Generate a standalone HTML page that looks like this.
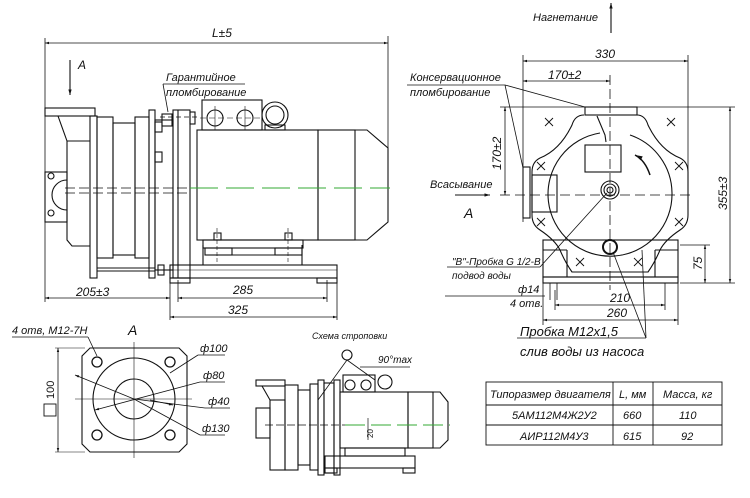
<!DOCTYPE html>
<html><head><meta charset="utf-8"><style>
html,body{margin:0;padding:0;background:#fff;}
svg{display:block;}
text{font-family:"Liberation Sans","DejaVu Sans",sans-serif;font-style:italic;fill:#111;}
</style></head><body>
<svg width="750" height="498" viewBox="0 0 750 498" xmlns="http://www.w3.org/2000/svg">
<defs>
<marker id="a" viewBox="0 0 10 10" refX="10" refY="5" markerWidth="8" markerHeight="5" orient="auto-start-reverse"><path d="M0,2 L10,5 L0,8 z" fill="#111"/></marker>
</defs>
<g fill="none" stroke="#111" stroke-width="1.1">
<!-- ================= LEFT VIEW ================= -->
<line x1="45" y1="38" x2="45" y2="302" stroke-width="0.8"/>
<line x1="388" y1="36" x2="388" y2="150" stroke-width="0.8"/>
<line x1="45" y1="43" x2="388" y2="43" stroke-width="0.8" marker-start="url(#a)" marker-end="url(#a)"/>
<line x1="70" y1="60" x2="70" y2="95" marker-end="url(#a)"/>
<line x1="163" y1="84" x2="245" y2="84" stroke-width="0.8"/>
<line x1="163" y1="84" x2="168" y2="112" stroke-width="0.8"/>
<!-- pump -->
<rect x="45" y="108" width="50" height="8"/>
<path d="M48,116 L58,116 L67,141 L90,141"/>
<path d="M67,141 L67,240 L72,246 L90,246"/>
<rect x="45" y="172" width="22" height="50"/>
<circle cx="51" cy="176" r="3"/><circle cx="51" cy="213" r="3"/>
<path d="M67,180 A15,15 0 0 0 67,210"/>
<rect x="90" y="116" width="7" height="162"/>
<rect x="97" y="117" width="16" height="141"/>
<rect x="113" y="123" width="22" height="132"/>
<rect x="135" y="117" width="14" height="141"/>
<rect x="149" y="110" width="6" height="168"/>
<rect x="155" y="120" width="18" height="150"/>
<rect x="173" y="110" width="17" height="168"/>
<line x1="178" y1="110" x2="178" y2="278"/>
<line x1="97" y1="268" x2="155" y2="268"/><line x1="97" y1="271" x2="155" y2="271"/>
<rect x="158" y="265" width="6" height="10"/>
<rect x="162" y="114" width="10" height="12"/><rect x="155" y="122" width="7" height="10"/>
<rect x="155" y="152" width="7" height="10"/>
<line x1="160" y1="117" x2="200" y2="117" stroke-dasharray="5,3" stroke-width="0.8"/>
<rect x="190" y="112" width="5" height="12"/>
<!-- motor -->
<rect x="197" y="130" width="121" height="110"/>
<rect x="318" y="130" width="37" height="110"/>
<path d="M355,130 L367,130 L388,148 L388,222 L367,240 L355,240"/>
<rect x="202" y="100" width="60" height="30"/>
<circle cx="215" cy="118" r="8"/><circle cx="245" cy="118" r="8"/>
<line x1="215" y1="106" x2="215" y2="130" stroke-width="0.6"/><line x1="245" y1="106" x2="245" y2="130" stroke-width="0.6"/>
<line x1="200" y1="118" x2="260" y2="118" stroke-dasharray="6,3" stroke-width="0.6"/>
<circle cx="275" cy="115" r="13"/><circle cx="275" cy="115" r="9"/>
<rect x="265" y="125" width="20" height="5"/>
<!-- feet/base -->
<rect x="203" y="240" width="100" height="8"/>
<rect x="205" y="248" width="27" height="7"/><rect x="275" y="248" width="27" height="7"/>
<line x1="205" y1="255" x2="302" y2="255"/>
<path d="M203,245 L203,265 M302,245 L302,265"/>
<rect x="170" y="265" width="167" height="13"/>
<rect x="170" y="278" width="20" height="5"/><rect x="317" y="278" width="20" height="5"/>
<line x1="170" y1="270" x2="337" y2="270" stroke-width="0.6"/>
<rect x="214" y="233" width="7" height="7"/><rect x="285" y="233" width="7" height="7"/>
<line x1="217" y1="228" x2="217" y2="262" stroke-dasharray="4,2" stroke-width="0.6"/>
<line x1="288" y1="228" x2="288" y2="262" stroke-dasharray="4,2" stroke-width="0.6"/>
<line x1="65" y1="188" x2="190" y2="188" stroke-dasharray="10,4" stroke-width="0.8"/>
<line x1="65" y1="193" x2="190" y2="193" stroke-dasharray="10,4" stroke-width="0.8"/>
<line x1="190" y1="188" x2="390" y2="188" stroke="#3a3" stroke-dasharray="28,8" stroke-width="1"/>
<!-- bottom dims -->
<line x1="170" y1="278" x2="170" y2="320" stroke-width="0.8"/>
<line x1="337" y1="283" x2="337" y2="320" stroke-width="0.8"/>
<line x1="178" y1="280" x2="178" y2="302" stroke-width="0.8"/>
<line x1="327" y1="280" x2="327" y2="302" stroke-width="0.8"/>
<line x1="45" y1="298" x2="170" y2="298" stroke-width="0.8" marker-start="url(#a)" marker-end="url(#a)"/>
<line x1="178" y1="298" x2="327" y2="298" stroke-width="0.8" marker-start="url(#a)" marker-end="url(#a)"/>
<line x1="170" y1="317" x2="337" y2="317" stroke-width="0.8" marker-start="url(#a)" marker-end="url(#a)"/>

<!-- ================= RIGHT VIEW ================= -->
<line x1="611" y1="33" x2="611" y2="3" marker-end="url(#a)"/>
<line x1="523" y1="55" x2="523" y2="222" stroke-width="0.8"/>
<line x1="688" y1="55" x2="688" y2="200" stroke-width="0.8"/>
<line x1="523" y1="61" x2="688" y2="61" stroke-width="0.8" marker-start="url(#a)" marker-end="url(#a)"/>
<line x1="523" y1="81" x2="610" y2="81" stroke-width="0.8" marker-start="url(#a)" marker-end="url(#a)"/>
<line x1="610" y1="75" x2="610" y2="290" stroke-dasharray="10,4" stroke-width="0.8"/>
<line x1="407" y1="85" x2="505" y2="85" stroke-width="0.8"/>
<line x1="505" y1="85" x2="585" y2="107" stroke-width="0.8"/>
<line x1="505" y1="85" x2="523" y2="168" stroke-width="0.8"/>
<line x1="500" y1="107" x2="735" y2="107" stroke-width="0.8"/>
<line x1="505" y1="107" x2="505" y2="195" stroke-width="0.8" marker-start="url(#a)" marker-end="url(#a)"/>
<line x1="730" y1="107" x2="730" y2="283" stroke-width="0.8" marker-start="url(#a)" marker-end="url(#a)"/>
<line x1="680" y1="283" x2="735" y2="283" stroke-width="0.8"/>
<line x1="680" y1="245" x2="710" y2="245" stroke-width="0.8"/>
<line x1="705" y1="245" x2="705" y2="283" stroke-width="0.8" marker-start="url(#a)" marker-end="url(#a)"/>
<rect x="585" y="107" width="52" height="8"/>
<path d="M584,115 Q575,115 572,125 Q560,150 540,158 Q532,162 532,172 L532,215 Q532,225 540,230 Q555,240 560,250 Q565,262 572,272 L648,272 Q655,262 660,250 Q665,240 680,230 Q688,225 688,215 L688,172 Q688,162 680,158 Q660,150 648,125 Q645,115 637,115"/>
<path d="M600,133 A62,62 0 1 0 672,193"/>
<path d="M672,193 A62,62 0 0 0 630,135"/>
<path d="M597,116 L605,135 L606,142"/>
<rect x="585" y="145" width="36" height="27"/>
<path d="M650,175 Q645,160 635,155" marker-end="url(#a)" stroke-width="1.5"/>
<rect x="523" y="167" width="7" height="51"/>
<rect x="532" y="175" width="25" height="37"/>
<circle cx="610" cy="190" r="9"/><circle cx="610" cy="190" r="6"/><circle cx="610" cy="190" r="3"/>
<circle cx="610" cy="247" r="7" stroke-width="2"/>
<line x1="500" y1="195" x2="695" y2="195" stroke-dasharray="10,5" stroke-width="0.8"/>
<rect x="543" y="240" width="135" height="37"/>
<rect x="543" y="277" width="135" height="6"/>
<line x1="567" y1="250" x2="567" y2="277"/><line x1="655" y1="250" x2="655" y2="277"/>
<line x1="543" y1="250" x2="567" y2="250"/><line x1="655" y1="250" x2="678" y2="250"/>
<g stroke-width="0.9">
<path d="M545,118 l8,8 m0,-8 l-8,8"/><path d="M667,118 l8,8 m0,-8 l-8,8"/>
<path d="M537,162 l8,8 m0,-8 l-8,8"/><path d="M675,162 l8,8 m0,-8 l-8,8"/>
<path d="M537,218 l8,8 m0,-8 l-8,8"/><path d="M675,218 l8,8 m0,-8 l-8,8"/>
<path d="M576,258 l8,8 m0,-8 l-8,8"/><path d="M634,258 l8,8 m0,-8 l-8,8"/>
</g>
<line x1="455" y1="195" x2="490" y2="195" marker-end="url(#a)"/>
<line x1="447" y1="267" x2="540" y2="267" stroke-width="0.8"/>
<line x1="540" y1="267" x2="607" y2="193" stroke-width="0.8"/>
<line x1="445" y1="296" x2="545" y2="296" stroke-width="0.8"/>
<line x1="550" y1="283" x2="550" y2="300" stroke-width="0.8"/>
<line x1="557" y1="283" x2="557" y2="300" stroke-width="0.8"/>
<line x1="555" y1="290" x2="555" y2="310" stroke-width="0.8"/>
<line x1="665" y1="283" x2="665" y2="310" stroke-width="0.8"/>
<line x1="555" y1="305" x2="665" y2="305" stroke-width="0.8" marker-start="url(#a)" marker-end="url(#a)"/>
<line x1="543" y1="283" x2="543" y2="325" stroke-width="0.8"/>
<line x1="678" y1="283" x2="678" y2="325" stroke-width="0.8"/>
<line x1="543" y1="320" x2="678" y2="320" stroke-width="0.8" marker-start="url(#a)" marker-end="url(#a)"/>
<line x1="517" y1="338" x2="646" y2="338" stroke-width="0.8"/>
<line x1="646" y1="338" x2="613" y2="252" stroke-width="0.8"/>
<line x1="646" y1="338" x2="642" y2="250" stroke-width="0.8"/>

<!-- ================= VIEW A ================= -->
<line x1="12" y1="337" x2="88" y2="337" stroke-width="0.8"/>
<line x1="88" y1="337" x2="97" y2="356" stroke-width="0.8"/>
<path d="M90,348 L179,348 L187,356 L187,444 L179,452 L90,452 L82,444 L82,356 Z"/>
<circle cx="134" cy="399" r="41"/>
<circle cx="134" cy="399" r="20"/>
<g stroke-width="1.3">
<circle cx="97" cy="362" r="5"/><circle cx="170" cy="362" r="5"/>
<circle cx="97" cy="435" r="5"/><circle cx="170" cy="435" r="5"/>
</g>
<line x1="134" y1="342" x2="134" y2="458" stroke-width="0.6"/>
<line x1="75" y1="399" x2="192" y2="399" stroke-width="0.6"/>
<line x1="55" y1="348" x2="85" y2="348" stroke-width="0.6"/>
<line x1="55" y1="452" x2="85" y2="452" stroke-width="0.6"/>
<line x1="58" y1="348" x2="58" y2="452" stroke-width="0.8" marker-start="url(#a)" marker-end="url(#a)"/>
<rect x="44" y="404" width="12" height="12" stroke-width="0.9"/>
<line x1="198" y1="355" x2="225" y2="355" stroke-width="0.8"/>
<line x1="198" y1="355" x2="170" y2="373" stroke-width="0.8"/>
<line x1="75" y1="375" x2="134" y2="399" stroke-width="0.8" marker-start="url(#a)"/>
<line x1="200" y1="382" x2="225" y2="382" stroke-width="0.8"/>
<line x1="200" y1="382" x2="95" y2="410" stroke-width="0.8" marker-end="url(#a)"/>
<line x1="205" y1="408" x2="230" y2="408" stroke-width="0.8"/>
<line x1="205" y1="408" x2="134" y2="399" stroke-width="0.8"/>
<line x1="200" y1="435" x2="225" y2="435" stroke-width="0.8"/>
<line x1="200" y1="435" x2="134" y2="399" stroke-width="0.8"/>
<line x1="150" y1="400" x2="173" y2="405" stroke-width="0.8" marker-end="url(#a)"/>

<!-- ================= SLING VIEW ================= -->
<circle cx="347" cy="355" r="5"/>
<line x1="347" y1="360" x2="318" y2="400" stroke-width="0.8"/>
<line x1="347" y1="360" x2="375" y2="380" stroke-width="0.8"/>
<line x1="360" y1="367" x2="410" y2="367" stroke-width="0.8"/>
<rect x="256" y="380" width="29" height="6"/>
<path d="M262,386 L270,400 L285,400"/>
<rect x="256" y="408" width="14" height="30"/>
<rect x="270" y="400" width="15" height="70"/>
<rect x="285" y="385" width="13" height="85"/>
<rect x="298" y="390" width="12" height="75"/>
<rect x="310" y="384" width="8" height="86"/>
<rect x="318" y="380" width="6" height="95"/>
<rect x="324" y="383" width="10" height="90"/>
<rect x="334" y="380" width="6" height="95"/>
<rect x="343" y="375" width="32" height="17"/>
<circle cx="350" cy="385" r="5"/><circle cx="366" cy="385" r="5"/>
<circle cx="385" cy="382" r="7"/>
<rect x="340" y="392" width="68" height="56"/>
<rect x="408" y="392" width="25" height="56"/>
<path d="M433,392 L440,392 L448,402 L448,440 L440,448 L433,448"/>
<rect x="345" y="448" width="60" height="8"/>
<rect x="325" y="456" width="90" height="12"/>
<rect x="325" y="468" width="12" height="5"/><rect x="403" y="468" width="12" height="5"/>
<line x1="265" y1="425" x2="345" y2="425" stroke-dasharray="8,3" stroke-width="0.7"/>
<line x1="345" y1="425" x2="450" y2="425" stroke="#3a3" stroke-dasharray="20,6"/>
<line x1="368" y1="418" x2="368" y2="440" stroke-width="0.7"/>

<!-- ================= TABLE ================= -->
<rect x="486" y="382" width="236" height="63" stroke-width="0.9"/>
<line x1="486" y1="405" x2="722" y2="405" stroke-width="0.9"/>
<line x1="486" y1="425" x2="722" y2="425" stroke-width="0.9"/>
<line x1="613" y1="382" x2="613" y2="445" stroke-width="0.9"/>
<line x1="653" y1="382" x2="653" y2="445" stroke-width="0.9"/>
</g>

<g font-size="11">
<text x="212" y="37" font-size="12">L±5</text>
<text x="78" y="69" font-size="12">A</text>
<text x="166" y="81">Гарантийное</text>
<text x="166" y="96">пломбирование</text>
<text x="76" y="296" font-size="12">205±3</text>
<text x="233" y="294" font-size="12">285</text>
<text x="228" y="314" font-size="12">325</text>

<text x="533" y="21">Нагнетание</text>
<text x="595" y="58" font-size="12">330</text>
<text x="548" y="79" font-size="12">170±2</text>
<text x="410" y="81">Консервационное</text>
<text x="410" y="96">пломбирование</text>
<text x="430" y="188">Всасывание</text>
<text x="464" y="218" font-size="14">A</text>
<text transform="translate(501,170) rotate(-90)" font-size="12">170±2</text>
<text transform="translate(727,210) rotate(-90)" font-size="12">355±3</text>
<text transform="translate(702,270) rotate(-90)" font-size="12">75</text>
<text x="452" y="265" font-size="10">"В"-Пробка G 1/2-В</text>
<text x="452" y="279" font-size="10">подвод воды</text>
<text x="518" y="293" font-size="11">ф14</text>
<text x="510" y="307" font-size="11">4 отв.</text>
<text x="610" y="302" font-size="12">210</text>
<text x="607" y="317" font-size="12">260</text>
<text x="520" y="336" font-size="13">Пробка М12х1,5</text>
<text x="520" y="356" font-size="13">слив воды из насоса</text>

<text x="12" y="334">4 отв, М12-7Н</text>
<text x="128" y="335" font-size="14">A</text>
<text transform="translate(54,399) rotate(-90)" font-size="11" style="font-style:normal">100</text>
<text x="200" y="352">ф100</text>
<text x="203" y="379">ф80</text>
<text x="208" y="405">ф40</text>
<text x="202" y="432">ф130</text>

<text x="312" y="339" font-size="9">Схема строповки</text>
<text x="378" y="363" font-size="10">90°max</text>
<text transform="translate(373,438) rotate(-90)" font-size="8" style="font-style:normal">20</text>

<text x="490" y="398" font-size="11">Типоразмер двигателя</text>
<text x="619" y="398" font-size="11">L, мм</text>
<text x="663" y="398" font-size="11">Масса, кг</text>
<text x="512" y="419" font-size="11">5АМ112М4Ж2У2</text>
<text x="623" y="419" font-size="11">660</text>
<text x="679" y="419" font-size="11">110</text>
<text x="520" y="440" font-size="11">АИР112М4У3</text>
<text x="623" y="440" font-size="11">615</text>
<text x="681" y="440" font-size="11">92</text>
</g>
</svg>
</body></html>
